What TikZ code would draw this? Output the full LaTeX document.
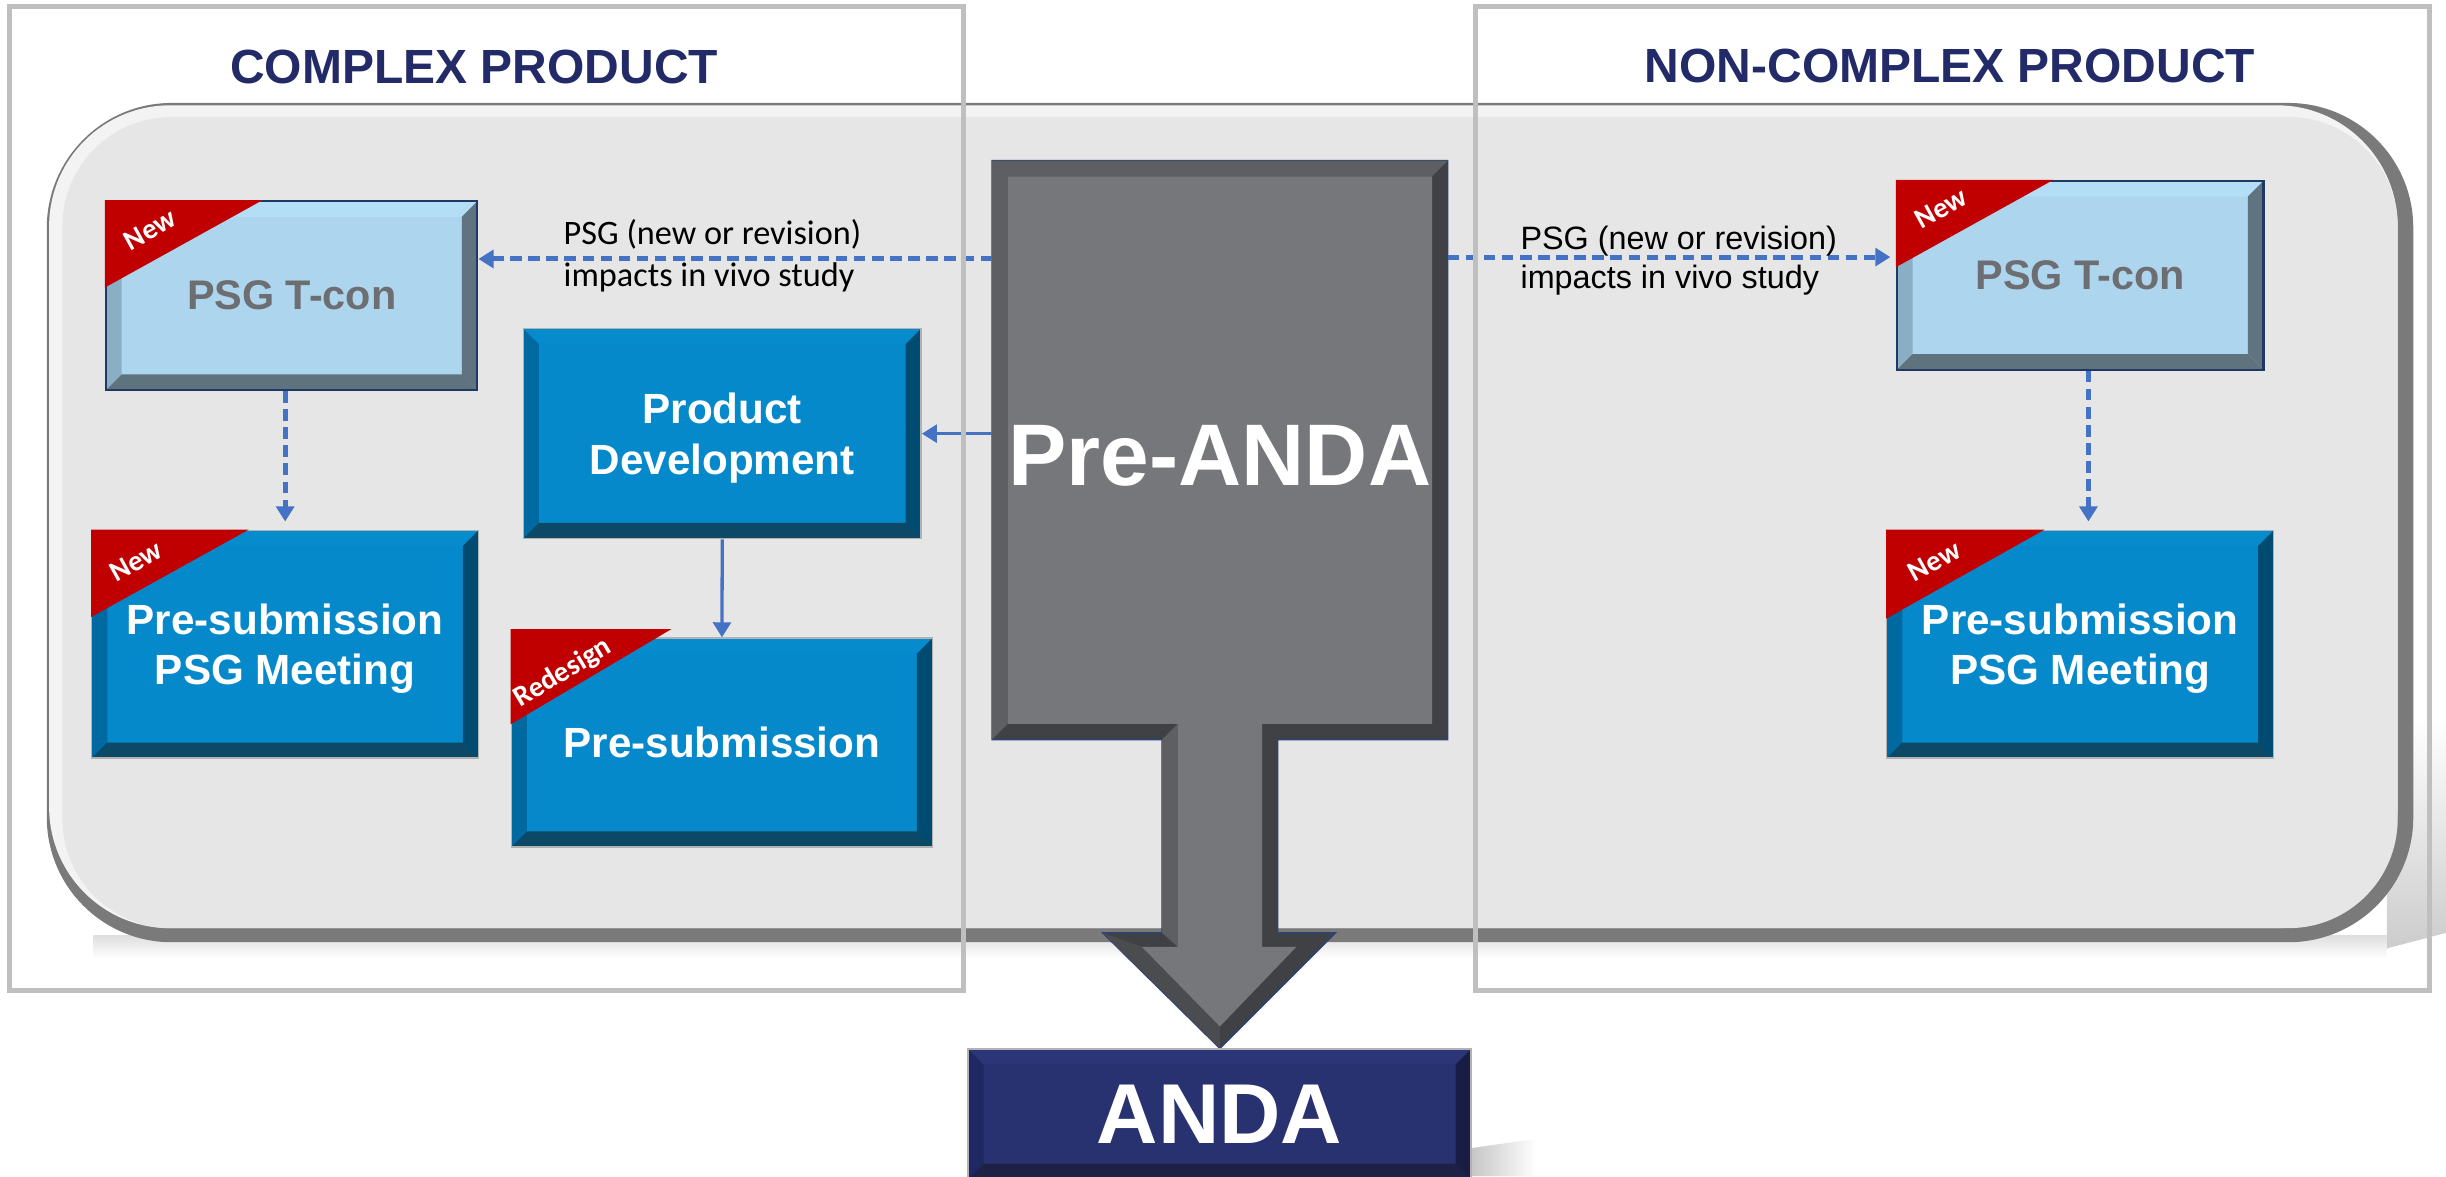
\documentclass[tikz,border=0pt]{standalone}
\usepackage{fontspec}
\setmainfont{Liberation Sans}
\newfontfamily\calibri{Carlito}
\usetikzlibrary{arrows.meta}

\definecolor{headnavy}{HTML}{222B68}
\definecolor{panelface}{HTML}{E6E6E6}
\definecolor{panelrim}{HTML}{7A7A7A}
\definecolor{panelhi}{HTML}{F3F3F3}
\definecolor{framegray}{HTML}{BFBFBF}
\definecolor{arrblue}{HTML}{4472C4}
\definecolor{tagred}{HTML}{C00000}
\definecolor{tcface}{HTML}{ADD5EE}
\definecolor{tctop}{HTML}{B3DEF6}
\definecolor{tcleft}{HTML}{8AAEC3}
\definecolor{tcright}{HTML}{5F7480}
\definecolor{tcbot}{HTML}{5F737F}
\definecolor{tcline}{HTML}{203864}
\definecolor{tctext}{HTML}{6D6E71}
\definecolor{bxface}{HTML}{0689CA}
\definecolor{bxtop}{HTML}{068BCD}
\definecolor{bxleft}{HTML}{0069A0}
\definecolor{bxright}{HTML}{004B72}
\definecolor{bxbot}{HTML}{0B4967}
\definecolor{adface}{HTML}{283270}
\definecolor{adtop}{HTML}{2B3577}
\definecolor{adleft}{HTML}{1F2862}
\definecolor{adright}{HTML}{191D44}
\definecolor{adbot}{HTML}{1D2146}
\definecolor{arface}{HTML}{76777B}
\definecolor{arlit}{HTML}{5E5F63}
\definecolor{armid}{HTML}{4B4C50}
\definecolor{ardark}{HTML}{404145}
\definecolor{arline}{HTML}{2E4372}

\def\bw{10}

\tikzset{
  bevel/.style n args={5}{fill=#1, path picture={
      \coordinate (bnw) at (path picture bounding box.north west);
      \coordinate (bne) at (path picture bounding box.north east);
      \coordinate (bse) at (path picture bounding box.south east);
      \coordinate (bsw) at (path picture bounding box.south west);
      \fill[#2] (bnw) -- (bne) -- ([shift={(-\bw,\bw)}]bne) -- ([shift={(\bw,\bw)}]bnw) -- cycle;
      \fill[#3] (bnw) -- ([shift={(\bw,\bw)}]bnw) -- ([shift={(\bw,-\bw)}]bsw) -- (bsw) -- cycle;
      \fill[#4] (bne) -- ([shift={(-\bw,\bw)}]bne) -- ([shift={(-\bw,-\bw)}]bse) -- (bse) -- cycle;
      \fill[#5] (bsw) -- ([shift={(\bw,-\bw)}]bsw) -- ([shift={(-\bw,-\bw)}]bse) -- (bse) -- cycle;
    }},
  boxsize/.style 2 args={minimum width=#1*0.2mm, minimum height=#2*0.2mm},
  tcon/.style={bevel={tcface}{tctop}{tcleft}{tcright}{tcbot}, draw=tcline,
    line width=0.8pt, inner sep=0pt, text=tctext,
    font=\bfseries\fontsize{15.1}{18}\selectfont},
  bluebox/.style={bevel={bxface}{bxtop}{bxleft}{bxright}{bxbot}, draw=gray!60,
    line width=0.5pt, inner sep=0pt, text=white, align=center, text depth=0pt,
    font=\bfseries\fontsize{15.4}{18.4}\selectfont},
  tag/.style={text=white, inner sep=0pt, font=\calibri\bfseries\fontsize{10.5}{12}\selectfont},
  head/.style={text=headnavy, font=\bfseries\fontsize{17.5}{21}\selectfont},
  frame/.style={draw=framegray, line width=1.7pt},
  dasharr/.style={draw=arrblue, line width=1.8pt, dash pattern=on 4.2pt off 2.4pt,
    -{Triangle[length=5.5pt,width=6.5pt]}},
  solarr/.style={draw=arrblue, line width=1.2pt, -{Triangle[length=5.5pt,width=6.5pt]}},
}

\begin{document}
\begin{tikzpicture}[x=0.2mm, y=-0.2mm]
		\useasboundingbox (0,0) rectangle (1568,754);
		%%%%%%%%%%%%% shadows and background panel
		\shade[top color=white, bottom color=gray!40] (1530,468) -- (1568,460) -- (1568,598) -- (1530,608) -- cycle;
		\shade[left color=gray!45, right color=white] (943,736) -- (985,730) -- (985,754) -- (943,754) -- cycle;
		\shade[top color=gray!25, bottom color=white] (60,600) rectangle (1530,614);
		\fill[panelrim, rounded corners=16mm] (30,66) rectangle (1547,604);
		\fill[panelhi, rounded corners=15.5mm] (31.5,67.5) rectangle (1537,595);
		\fill[panelface, rounded corners=14mm] (40,75) rectangle (1537,595);
		%%%%%%%%%%%%% Pre-ANDA block arrow
		\filldraw[fill=ardark, draw=arline, line width=0.6pt] (636,103) -- (928,103) -- (928,474) -- (819,474)
			-- (819,598) -- (856,598) -- (782,672) -- (707,598) -- (745,598) -- (745,474) -- (636,474) -- cycle;
		\fill[armid] (707,598) -- (732,607) -- (782,658) -- (782,672) -- cycle;
		\fill[arlit] (636,103) -- (928,103) -- (918,113) -- (646,113) -- cycle;
		\fill[arlit] (636,103) -- (646,113) -- (646,464) -- (636,474) -- cycle;
		\fill[arlit] (745,474) -- (755,464) -- (755,607) -- (745,598) -- cycle;
		\fill[arface] (646,113) -- (918,113) -- (918,464) -- (809,464) -- (809,607) -- (831,607)
			-- (782,658) -- (732,607) -- (755,607) -- (755,464) -- (646,464) -- cycle;
		\node[outer sep=0pt, inner sep=0pt, boxsize={292}{371}, text=white,
			font=\bfseries\fontsize{31.9}{36}\selectfont] (preanda) at (782,292) {Pre-ANDA};
		%%%%%%%%%%%%% boxes
		\node[tcon, boxsize={238}{121}] (tcA) at (187,189.5) {PSG T-con};
		\node[tcon, boxsize={235}{121}] (tcB) at (1333.5,176.5) {PSG T-con};
		\node[bluebox, boxsize={248}{146}] (meetA) at (182.8,413) {Pre-submission\\PSG Meeting};
		\node[bluebox, boxsize={248}{146}] (meetB) at (1333.5,413) {Pre-submission\\PSG Meeting};
		\node[bluebox, boxsize={255}{134.5}] (pd) at (463,278) {Product\\Development};
		\node[bluebox, boxsize={270}{134}] (presub) at (462.8,476) {Pre-submission};
		\node[bevel={adface}{adtop}{adleft}{adright}{adbot}, draw=gray!60, line width=0.5pt,
			inner sep=0pt, boxsize={322.5}{83.5}, text=white,
			font=\bfseries\fontsize{31}{36}\selectfont] (anda) at (781.8,714.25) {ANDA};
		%%%%%%%%%%%%% red corner tags
		\fill[tagred] (tcA.north west) -- ++(101,0) -- ++(-101,56) -- cycle;
		\fill[tagred] (tcB.north west) -- ++(101,0) -- ++(-101,56) -- cycle;
		\fill[tagred] (meetA.north west) -- ++(101,0) -- ++(-101,56) -- cycle;
		\fill[tagred] (meetB.north west) -- ++(101.5,0) -- ++(-101.5,57) -- cycle;
		\fill[tagred] ([yshift=3]presub.north west) -- ++(103,0) -- ++(-103,61) -- cycle;
		\node[tag, rotate=29] (newA) at ([shift={(29,19)}]tcA.north west) {New};
		\node[tag, rotate=29] (newB) at ([shift={(29,18)}]tcB.north west) {New};
		\node[tag, rotate=29] (newC) at ([shift={(29,20)}]meetA.north west) {New};
		\node[tag, rotate=29] (newD) at ([shift={(31,20)}]meetB.north west) {New};
		\node[tag, rotate=31] (redo) at ([shift={(33.5,23)}]presub.north west) {Redesign};
		%%%%%%%%%%%%% connectors
		\coordinate (lA) at (0,166);
		\coordinate (lB) at (0,164.8);
		\draw[dasharr] (preanda.west |- lA) -- (tcA.east |- lA);
		\draw[dasharr, shorten >=2] (preanda.east |- lB) -- (tcB.west |- lB);
		\draw[solarr] (preanda.west |- pd.east) -- (pd.east);
		\draw[solarr] (pd.south) -- (presub.north);
		\draw[dasharr, shorten >=3] (meetA.north |- tcA.south) -- (meetA.north);
		\draw[dasharr, shorten >=3] ([xshift=3]meetB.north |- tcB.south) -- ([xshift=3]meetB.north);
		\node[anchor=base west, align=left, inner sep=0pt, font=\calibri\fontsize{12.5}{15.1}\selectfont]
			(noteA) at (361,183.5) {PSG (new or revision)\\impacts in vivo study};
		\node[anchor=base west, align=left, inner sep=0pt, font=\fontsize{11.8}{14.3}\selectfont]
			(noteB) at (974.4,184.8) {PSG (new or revision)\\impacts in vivo study};
		%%%%%%%%%%%%% outer frames and titles
		\draw[frame] (6,4.3) rectangle (617.5,635);
		\draw[frame] (946,4.3) rectangle (1557.5,635);
		\node[head] (hA) at (304,43) {COMPLEX PRODUCT};
		\node[head] (hB) at (1250,42) {NON-COMPLEX PRODUCT};
\end{tikzpicture}
\end{document}
